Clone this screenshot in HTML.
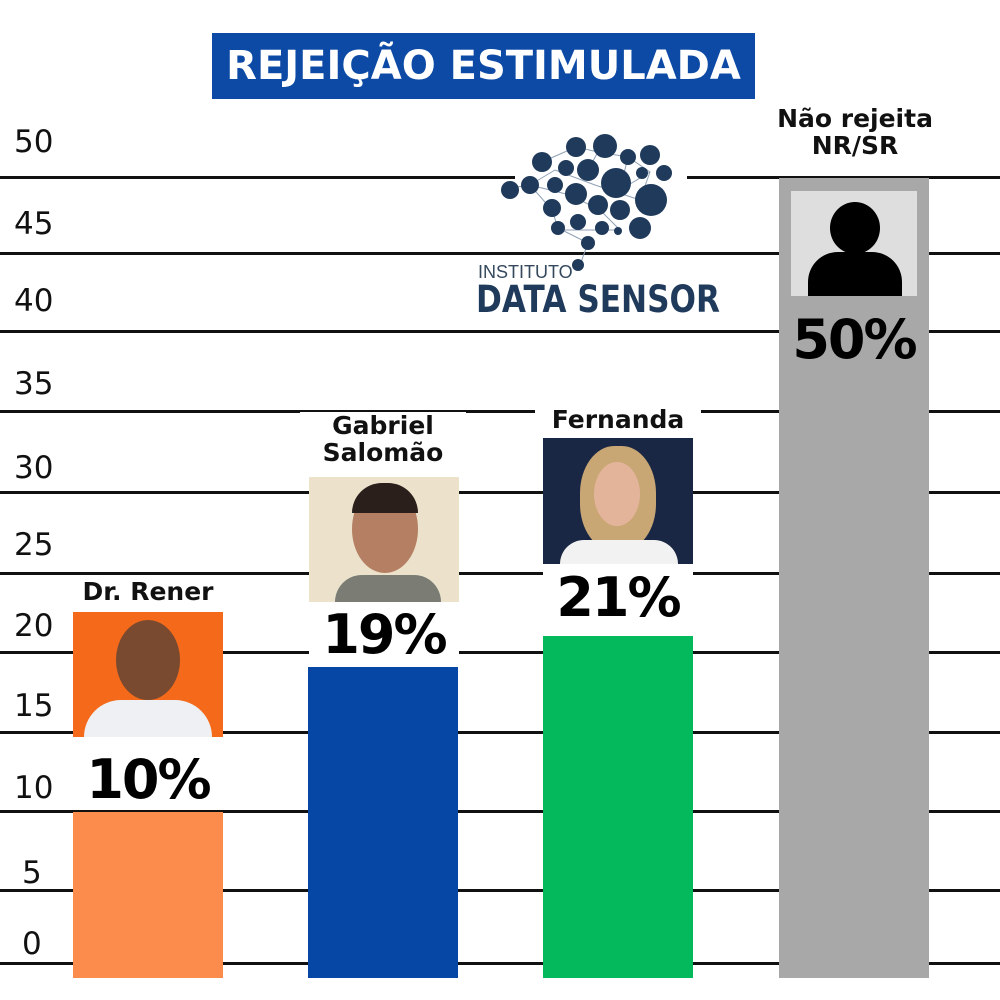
<!DOCTYPE html>
<html><head><meta charset="utf-8"><style>
body{margin:0;width:1000px;height:1000px;background:#fff;position:relative;overflow:hidden;font-family:"Liberation Sans","DejaVu Sans",sans-serif}
.a{position:absolute}
.gl{position:absolute;left:0;width:1000px;height:3px;background:#111}
.tk{position:absolute;left:14px;font-size:31px;color:#111;font-family:"DejaVu Sans",sans-serif}
.nm{position:absolute;font-weight:bold;font-size:25px;text-align:center;color:#111;font-family:"DejaVu Sans",sans-serif;line-height:27px;background:#fff}
.pc{position:absolute;font-weight:bold;font-size:54px;text-align:center;color:#000;font-family:"DejaVu Sans",sans-serif;background:#fff;letter-spacing:-2px}
</style></head><body>
<div class="gl" style="top:176px"></div>
<div class="gl" style="top:252px"></div>
<div class="gl" style="top:330px"></div>
<div class="gl" style="top:410px"></div>
<div class="gl" style="top:491px"></div>
<div class="gl" style="top:572px"></div>
<div class="gl" style="top:651px"></div>
<div class="gl" style="top:731px"></div>
<div class="gl" style="top:810px"></div>
<div class="gl" style="top:889px"></div>
<div class="gl" style="top:962px"></div>
<div class="a" style="left:515px;top:170px;width:172px;height:14px;background:#fff"></div>
<div class="tk" style="top:124px">50</div>
<div class="tk" style="top:206px">45</div>
<div class="tk" style="top:283px">40</div>
<div class="tk" style="top:366px">35</div>
<div class="tk" style="top:450px">30</div>
<div class="tk" style="top:527px">25</div>
<div class="tk" style="top:608px">20</div>
<div class="tk" style="top:688px">15</div>
<div class="tk" style="top:770px">10</div>
<div class="tk" style="top:855px;left:22px">5</div>
<div class="tk" style="top:926px;left:22px">0</div>

<div class="a" style="left:212px;top:33px;width:543px;height:66px;background:#0c4aa6;color:#fff;font-weight:bold;font-size:40px;text-align:center;line-height:66px;font-family:'DejaVu Sans',sans-serif">REJEIÇÃO ESTIMULADA</div>

<!-- logo -->
<svg class="a" style="left:470px;top:130px" width="260" height="190">
<g stroke="#8fa0b5" stroke-width="1" fill="none"><path d="M72 32L106 17L128 22L158 27L180 42L170 70L125 55L85 40L60 55L100 65L130 80L150 100L118 100L95 100L88 98L118 113L110 135M60 55L82 80L88 98M40 58L60 55M128 22L118 40M158 27L150 60L180 42"/></g>
<g fill="#1f3a5a">
<circle cx="106" cy="17" r="10"/><circle cx="135" cy="16" r="12"/><circle cx="158" cy="27" r="8"/><circle cx="180" cy="25" r="10"/>
<circle cx="72" cy="32" r="10"/><circle cx="96" cy="38" r="8"/><circle cx="118" cy="40" r="11"/><circle cx="146" cy="53" r="15"/><circle cx="172" cy="43" r="6"/><circle cx="194" cy="43" r="8"/>
<circle cx="60" cy="55" r="9"/><circle cx="85" cy="55" r="8"/><circle cx="106" cy="64" r="11"/><circle cx="181" cy="70" r="16"/>
<circle cx="82" cy="78" r="9"/><circle cx="128" cy="75" r="10"/><circle cx="150" cy="80" r="10"/><circle cx="40" cy="60" r="9"/>
<circle cx="108" cy="92" r="8"/><circle cx="88" cy="98" r="7"/><circle cx="132" cy="98" r="7"/><circle cx="148" cy="101" r="4"/><circle cx="170" cy="98" r="11"/>
<circle cx="118" cy="113" r="7"/><circle cx="108" cy="135" r="6"/>
</g>
<text x="8" y="148" font-size="18" fill="#34495e" font-family="Liberation Sans,sans-serif">INSTITUTO</text>
<text x="6" y="182" font-size="37" font-weight="bold" fill="#1f3a5a" font-family="DejaVu Sans,sans-serif" textLength="244" lengthAdjust="spacingAndGlyphs">DATA SENSOR</text>
</svg>

<!-- Dr Rener -->
<div class="nm" style="left:70px;top:578px;width:156px">Dr. Rener</div>
<div class="a" style="left:73px;top:612px;width:150px;height:125px;background:#f46a1a"></div>
<div class="a" style="left:116px;top:620px;width:64px;height:80px;border-radius:50%;background:#7a4a30"></div>
<div class="a" style="left:84px;top:700px;width:128px;height:37px;border-radius:40px 40px 0 0;background:#eef0f4"></div>
<div class="pc" style="left:73px;top:748px;width:150px;height:62px">10%</div>
<div class="a" style="left:73px;top:812px;width:150px;height:166px;background:#fb8c4b"></div>

<!-- Gabriel -->
<div class="nm" style="left:300px;top:412px;width:166px">Gabriel<br>Salomão</div>
<div class="a" style="left:309px;top:477px;width:150px;height:125px;background:#ece2cb"></div>
<div class="a" style="left:352px;top:485px;width:66px;height:88px;border-radius:50%;background:#b47f62"></div>
<div class="a" style="left:352px;top:483px;width:66px;height:30px;border-radius:30px 30px 0 0;background:#2a1f1a"></div>
<div class="a" style="left:335px;top:575px;width:106px;height:27px;border-radius:40px 40px 0 0;background:#7b7c74"></div>
<div class="pc" style="left:309px;top:603px;width:150px;height:64px">19%</div>
<div class="a" style="left:308px;top:667px;width:150px;height:311px;background:#0646a4"></div>

<!-- Fernanda -->
<div class="nm" style="left:535px;top:406px;width:166px">Fernanda</div>
<div class="a" style="left:543px;top:438px;width:150px;height:126px;background:#1a2744"></div>
<div class="a" style="left:580px;top:446px;width:76px;height:105px;border-radius:45%;background:#c9a774"></div>
<div class="a" style="left:594px;top:462px;width:46px;height:64px;border-radius:50%;background:#e3b49a"></div>
<div class="a" style="left:560px;top:540px;width:118px;height:24px;border-radius:40px 40px 0 0;background:#f2f2f2"></div>
<div class="pc" style="left:543px;top:566px;width:150px;height:68px">21%</div>
<div class="a" style="left:543px;top:636px;width:150px;height:342px;background:#03b95c"></div>

<!-- Nao rejeita -->
<div class="nm" style="left:755px;top:105px;width:200px;background:none">Não rejeita<br>NR/SR</div>
<div class="a" style="left:779px;top:178px;width:150px;height:800px;background:#a8a8a8"></div>
<div class="a" style="left:791px;top:191px;width:126px;height:105px;background:#dedede"></div>
<div class="a" style="left:830px;top:202px;width:50px;height:52px;border-radius:50%;background:#000"></div>
<div class="a" style="left:808px;top:252px;width:94px;height:44px;border-radius:30px 30px 0 0;background:#000"></div>
<div class="pc" style="left:779px;top:308px;width:150px;height:62px;background:none">50%</div>
</body></html>
